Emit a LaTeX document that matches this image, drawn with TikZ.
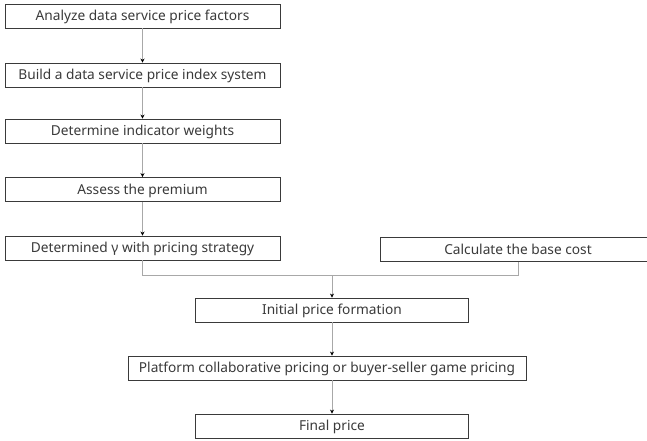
\documentclass[tikz,border=0pt]{standalone}
\usepackage{fontspec}
\setmainfont{Noto Sans}
\usetikzlibrary{arrows.meta}
\definecolor{boxline}{HTML}{3A3A3A}
\definecolor{conn}{HTML}{A8A8A8}
\definecolor{txt}{HTML}{3A3A3A}
\begin{document}
\begin{tikzpicture}[x=1pt,y=-1pt,
  stepbox/.style={draw=boxline, line width=0.9pt, fill=white, minimum height=24pt,
    inner sep=0pt, text height=10.7pt, text depth=1.3pt, text=txt,
    font=\fontsize{13.7}{15}\selectfont, anchor=center},
  flow/.style={draw=conn, line width=0.9pt, -{Stealth[length=4pt,width=4pt,black]}},
  plain/.style={draw=conn, line width=0.9pt}]
\useasboundingbox (0,0) rectangle (647,440);
\node[stepbox, minimum width=275pt] (b1) at (142.5,16) {Analyze data service price factors};
\node[stepbox, minimum width=275pt] (b2) at (142.5,75) {Build a data service price index system};
\node[stepbox, minimum width=275pt] (b3) at (142.5,131) {Determine indicator weights};
\node[stepbox, minimum width=275pt] (b4) at (142.5,189.5) {Assess the premium};
\node[stepbox, minimum width=275pt] (b5) at (142.5,248) {Determined γ with pricing strategy};
\node[stepbox, minimum width=276pt] (c) at (518,249.5) {Calculate the base cost};
\node[stepbox, minimum width=273pt] (i) at (332,310) {Initial price formation};
\node[stepbox, minimum width=398pt] (p) at (327,368) {Platform collaborative pricing or buyer-seller game pricing};
\node[stepbox, minimum width=273pt] (f) at (332,426) {Final price};
\coordinate (m) at (332,275);
\draw[flow] (b1) -- (b2);
\draw[flow] (b2) -- (b3);
\draw[flow] (b3) -- (b4);
\draw[flow] (b4) -- (b5);
\draw[plain] (b5.south) |- (m);
\draw[plain] (c.south) |- (m);
\draw[flow] (m) -- (i.north);
\draw[flow] (i.south) -- (i.south |- p.north);
\draw[flow] (p.south -| i.south) -- (f.north);
\end{tikzpicture}
\end{document}
